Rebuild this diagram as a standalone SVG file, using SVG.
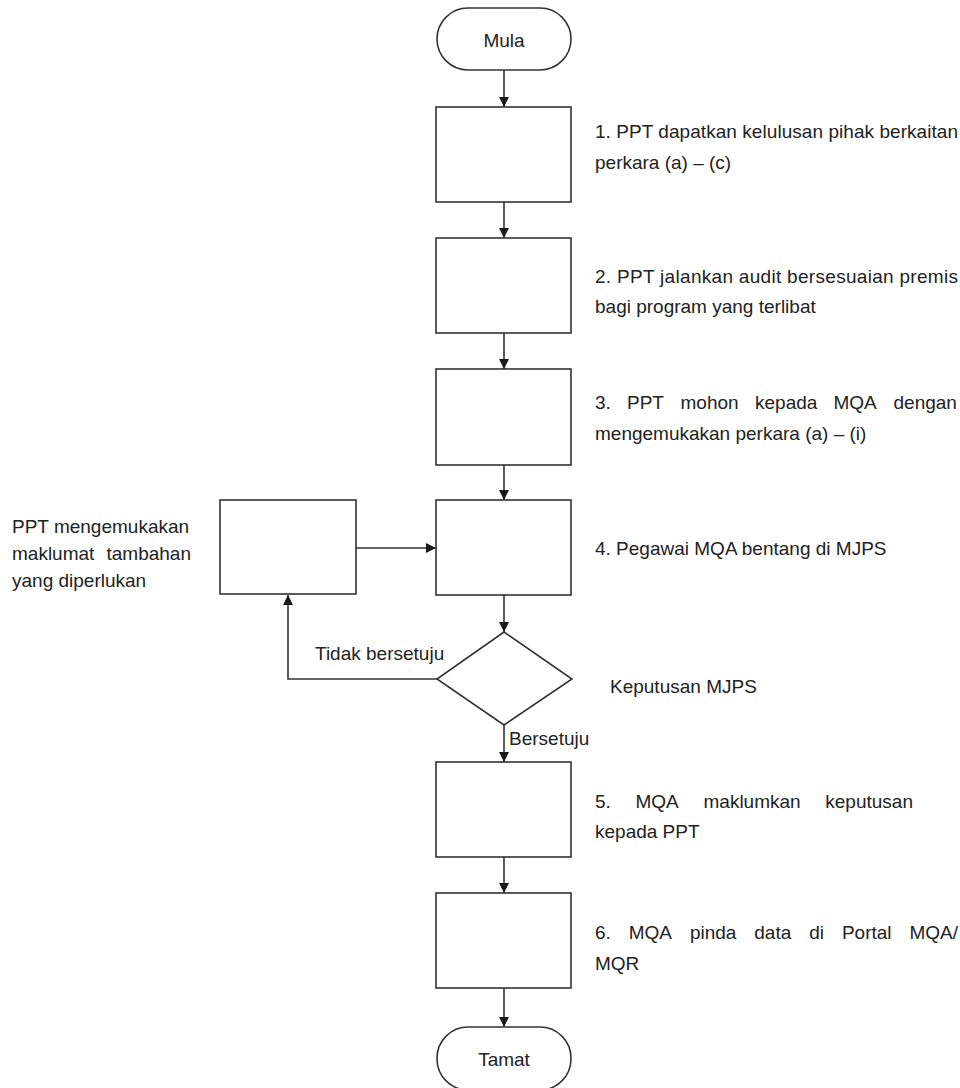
<svg xmlns="http://www.w3.org/2000/svg" width="960" height="1088" viewBox="0 0 960 1088">
<style>
.s{fill:#fff;stroke:#333;stroke-width:1.6}
.c{fill:none;stroke:#333;stroke-width:1.6}
text{font-family:"Liberation Sans",Arial,sans-serif;font-size:19px;fill:#222}
.m{text-anchor:middle}
</style>
<defs>
<marker id="ah" viewBox="0 0 10 12" refX="10" refY="6" markerWidth="11" markerHeight="12" markerUnits="userSpaceOnUse" orient="auto">
<path d="M0,1 L10,6 L0,11 z" fill="#1a1a1a"/>
</marker>
</defs>
<rect width="960" height="1088" fill="#fff"/>
<g id="connectors">
<line class="c" x1="504" y1="70" x2="504" y2="107" marker-end="url(#ah)"/>
<line class="c" x1="504" y1="202" x2="504" y2="238" marker-end="url(#ah)"/>
<line class="c" x1="504" y1="333" x2="504" y2="369" marker-end="url(#ah)"/>
<line class="c" x1="504" y1="465" x2="504" y2="500" marker-end="url(#ah)"/>
<line class="c" x1="504" y1="595" x2="504" y2="632" marker-end="url(#ah)"/>
<line class="c" x1="504" y1="725" x2="504" y2="762" marker-end="url(#ah)"/>
<line class="c" x1="504" y1="857" x2="504" y2="893" marker-end="url(#ah)"/>
<line class="c" x1="504" y1="988" x2="504" y2="1027" marker-end="url(#ah)"/>
<line class="c" x1="356" y1="548" x2="436" y2="548" marker-end="url(#ah)"/>
<polyline class="c" points="437,679 288,679 288,595" marker-end="url(#ah)"/>
<text x="315" y="660">Tidak bersetuju</text>
<text x="509" y="745">Bersetuju</text>
</g>
<g id="mula"><rect class="s" x="437" y="8" width="134" height="62" rx="31"/><text class="m" x="504" y="47">Mula</text></g>
<g id="step1"><rect class="s" x="436" y="107" width="135" height="95"/>
<text x="595" y="138" textLength="363" lengthAdjust="spacing">1. PPT dapatkan kelulusan pihak berkaitan</text>
<text x="595" y="169">perkara (a) – (c)</text></g>
<g id="step2"><rect class="s" x="436" y="238" width="135" height="95"/>
<text x="595" y="283" textLength="363" lengthAdjust="spacing">2. PPT jalankan audit bersesuaian premis</text>
<text x="595" y="313">bagi program yang terlibat</text></g>
<g id="step3"><rect class="s" x="436" y="369" width="135" height="96"/>
<text y="409"><tspan x="595">3.</tspan><tspan x="627">PPT</tspan><tspan x="680.5">mohon</tspan><tspan x="755">kepada</tspan><tspan x="833.5">MQA</tspan><tspan x="893.5">dengan</tspan></text>
<text x="595" y="440">mengemukakan perkara (a) – (i)</text></g>
<g id="step4"><rect class="s" x="436" y="500" width="135" height="95"/>
<text x="595" y="555">4. Pegawai MQA bentang di MJPS</text></g>
<g id="extra"><rect class="s" x="220" y="500" width="136" height="94"/>
<text x="12" y="533">PPT mengemukakan</text>
<text y="560"><tspan x="12">maklumat</tspan><tspan x="106.5">tambahan</tspan></text>
<text x="12" y="587">yang diperlukan</text></g>
<g id="decision"><polygon class="s" points="504,632 572,679 504,725 437,679"/>
<text x="610" y="693">Keputusan MJPS</text></g>
<g id="step5"><rect class="s" x="436" y="762" width="135" height="95"/>
<text y="808"><tspan x="595">5.</tspan><tspan x="635.5">MQA</tspan><tspan x="703.5">maklumkan</tspan><tspan x="825.3">keputusan</tspan></text>
<text x="595" y="838">kepada PPT</text></g>
<g id="step6"><rect class="s" x="436" y="893" width="135" height="95"/>
<text y="939"><tspan x="595">6.</tspan><tspan x="628.7">MQA</tspan><tspan x="689.9">pinda</tspan><tspan x="754.3">data</tspan><tspan x="809.2">di</tspan><tspan x="841.9">Portal</tspan><tspan x="909.4">MQA/</tspan></text>
<text x="595" y="970">MQR</text></g>
<g id="tamat"><rect class="s" x="437" y="1027" width="134" height="63" rx="31"/><text class="m" x="504" y="1066">Tamat</text></g>
</svg>
